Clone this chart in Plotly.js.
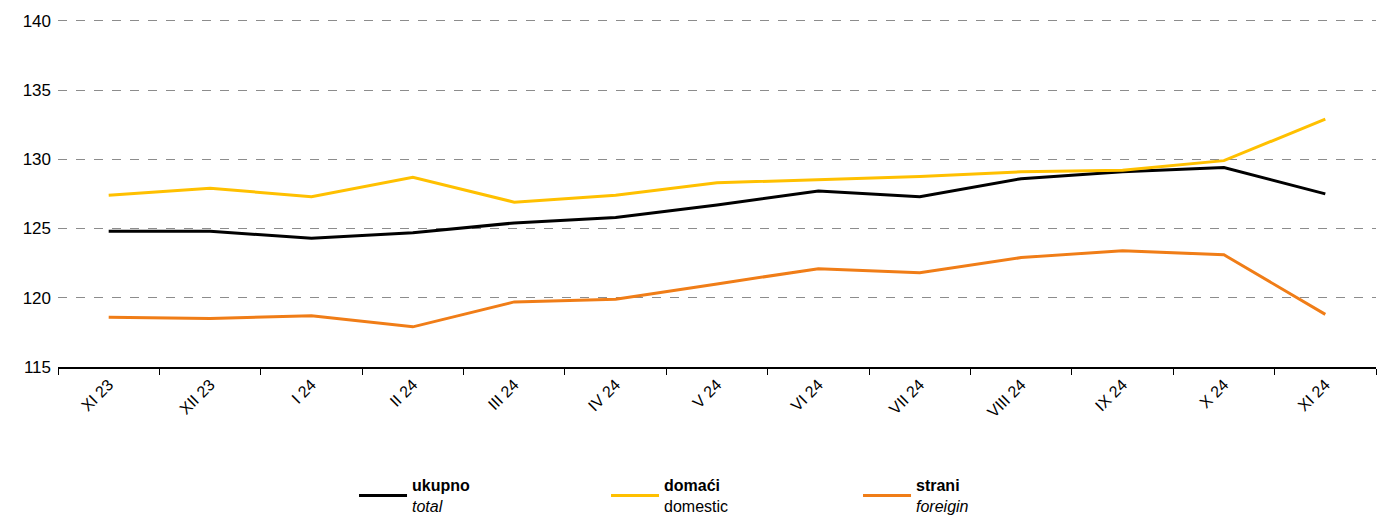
<!DOCTYPE html>
<html>
<head>
<meta charset="utf-8">
<script src="https://cdn.plot.ly/plotly-3.0.1.min.js"></script>
<style>html,body{margin:0;padding:0;background:#fff;}#chart{width:1386px;height:518px;}</style>
</head>
<body>
<div id="chart"></div>
<script>
const categories = ["XI 23","XII 23","I 24","II 24","III 24","IV 24","V 24","VI 24","VII 24","VIII 24","IX 24","X 24","XI 24"];
const ukupno = [124.8,124.8,124.3,124.7,125.4,125.8,126.7,127.7,127.3,128.6,129.1,129.4,127.5];
const domaci = [127.4,127.9,127.3,128.7,126.9,127.4,128.3,128.5,128.75,129.1,129.2,129.9,132.9];
const strani = [118.6,118.5,118.7,117.9,119.7,119.9,121.0,122.1,121.8,122.9,123.4,123.1,118.8];
const yTicks = [115,120,125,130,135,140];

const FONT = "Liberation Sans, Arial, sans-serif";

const traces = [
  {x: categories, y: ukupno, name: "<b>ukupno</b><br><i>total</i>", type: "scatter", mode: "lines", line: {color: "#000000", width: 3}},
  {x: categories, y: domaci, name: "<b>domaći</b><br>domestic", type: "scatter", mode: "lines", line: {color: "#FFC000", width: 3}},
  {x: categories, y: strani, name: "<b>strani</b><br><i>foreigin</i>", type: "scatter", mode: "lines", line: {color: "#F07D17", width: 3}}
];

const layout = {
  width: 1386, height: 518,
  margin: {l: 58, r: 10, t: 18, b: 151, autoexpand: false},
  paper_bgcolor: "#fff", plot_bgcolor: "#fff",
  font: {family: FONT, size: 16, color: "#000"},
  showlegend: true,
  legend: {orientation: "h", x: 0.2246, y: -0.29, xanchor: "left", yanchor: "top",
           font: {family: FONT, size: 16, color: "#000"}, entrywidth: 189, entrywidthmode: "pixels",
           valign: "middle", itemwidth: 48, tracegroupgap: 0},
  xaxis: {type: "category", automargin: false, showgrid: false, showline: true, linecolor: "#000", linewidth: 2,
          ticks: "outside", tickson: "boundaries", ticklen: 6, tickcolor: "#000", tickwidth: 1,
          tickangle: -45, tickfont: {family: FONT, size: 16}, range: [-0.5, 12.5], zeroline: false, fixedrange: true},
  yaxis: {range: [115, 140.2], automargin: false, tickvals: yTicks, ticktext: yTicks.map(String), showgrid: true,
          gridcolor: "#8c8c8c", griddash: "dash", gridwidth: 1, showline: false, zeroline: false,
          ticks: "", tickfont: {family: FONT, size: 17}, ticklabelstandoff: 6, fixedrange: true}
};

Plotly.newPlot("chart", traces, layout, {displayModeBar: false, staticPlot: true});
</script>
</body>
</html>
